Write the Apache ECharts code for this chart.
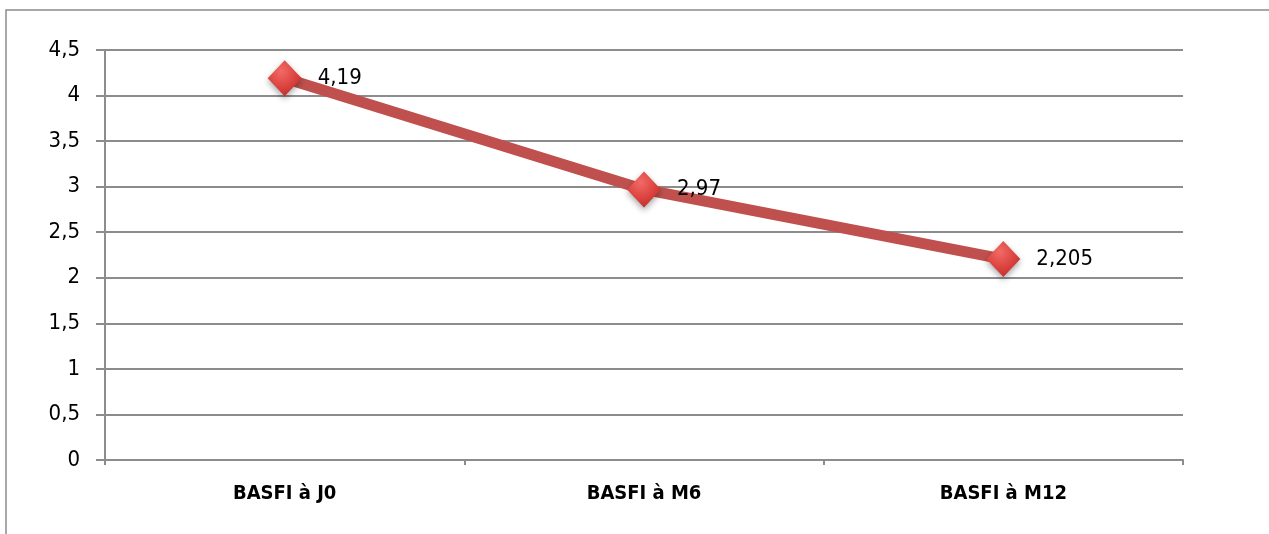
<!DOCTYPE html>
<html>
<head>
<meta charset="utf-8">
<script src="https://cdn.jsdelivr.net/npm/echarts@6/dist/echarts.min.js"></script>
<style>
  html, body { margin: 0; padding: 0; background: #fff; }
  #chart { width: 1269px; height: 534px; }
</style>
</head>
<body>
<div id="chart"></div>
<script>
// BASFI score over follow-up visits
const categories = ['BASFI à J0', 'BASFI à M6', 'BASFI à M12'];
const basfiValues = [4.19, 2.97, 2.205];
const yTicks = { min: 0, max: 4.5, interval: 0.5 };

const FONT = '"Liberation Sans Narrow", "DejaVu Sans Condensed", Arial, sans-serif';
const comma = v => String(v).replace('.', ',');

const chart = echarts.init(document.getElementById('chart'), null, { renderer: 'canvas' });
chart.setOption({
  animation: false,
  backgroundColor: '#ffffff',
  graphic: [{
    type: 'rect',
    shape: { x: 6, y: 10, width: 1300, height: 600 },
    style: { fill: 'none', stroke: '#8c8c8c', lineWidth: 1.5 },
    silent: true,
    z: -1
  }],
  grid: { left: 105, right: 86, top: 50, bottom: 74, containLabel: false },
  xAxis: {
    type: 'category',
    data: categories,
    boundaryGap: true,
    axisLine: { show: true, lineStyle: { color: '#8c8c8c', width: 2 } },
    axisTick: { show: true, length: 5, alignWithLabel: false, lineStyle: { color: '#8c8c8c', width: 2 } },
    axisLabel: { color: '#000', fontFamily: FONT, fontSize: 20, fontWeight: 'bold', margin: 24 },
    splitLine: { show: false }
  },
  yAxis: {
    type: 'value',
    min: yTicks.min,
    max: yTicks.max,
    interval: yTicks.interval,
    axisLine: { show: true, lineStyle: { color: '#8c8c8c', width: 2 } },
    axisTick: { show: true, length: 9, lineStyle: { color: '#8c8c8c', width: 2 } },
    axisLabel: { color: '#000', fontFamily: FONT, fontSize: 22, margin: 25, formatter: comma },
    splitLine: { show: true, lineStyle: { color: '#8c8c8c', width: 2 } }
  },
  series: [{
    type: 'line',
    data: basfiValues,
    lineStyle: { color: '#C0504D', width: 11 },
    symbol: 'diamond',
    symbolSize: [34, 36],
    itemStyle: {
      color: new echarts.graphic.RadialGradient(0.4, 0.3, 0.8, [
        { offset: 0, color: '#f26a66' },
        { offset: 0.6, color: '#d9403c' },
        { offset: 1, color: '#b42d2a' }
      ]),
      borderWidth: 0,
      shadowColor: 'rgba(0,0,0,0.35)',
      shadowBlur: 6,
      shadowOffsetY: 3
    },
    label: {
      show: true,
      position: 'right',
      distance: 16,
      color: '#000',
      fontFamily: FONT,
      fontSize: 22,
      formatter: p => comma(p.value)
    },
    z: 3
  }]
});
</script>
</body>
</html>
